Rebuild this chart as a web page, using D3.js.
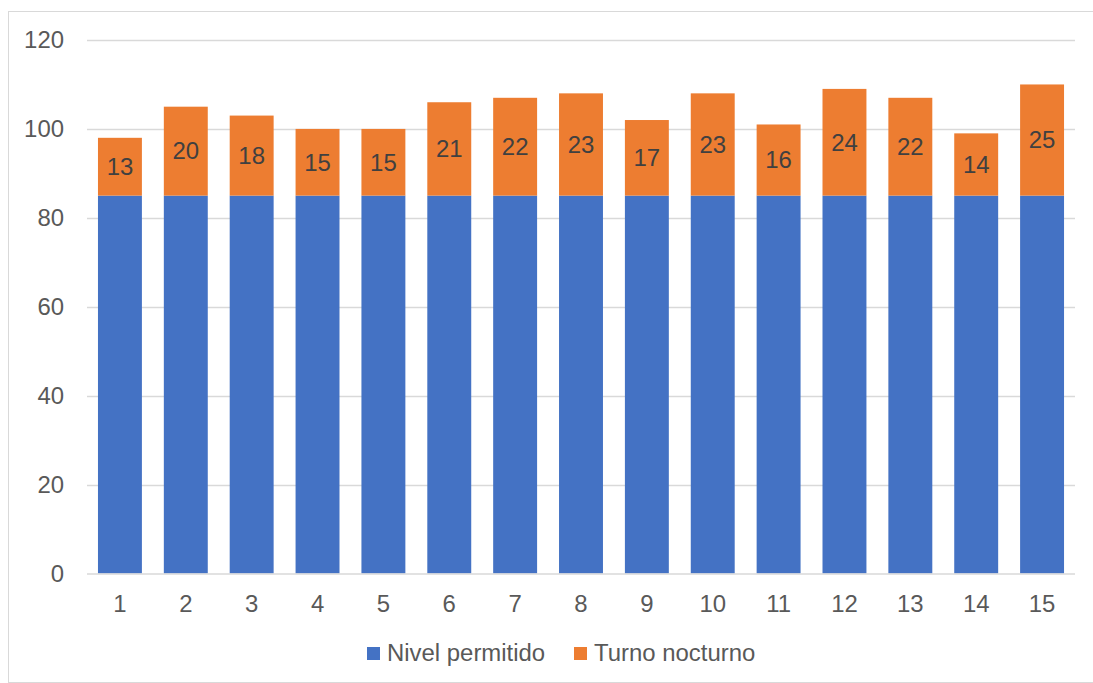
<!DOCTYPE html>
<html>
<head>
<meta charset="utf-8">
<script src="https://cdn.jsdelivr.net/npm/d3@7"></script>
<style>
  html, body { margin: 0; padding: 0; background: #fff; }
  svg { display: block; font-family: "Liberation Sans", Arial, sans-serif; }
</style>
</head>
<body>
<svg id="chart" width="1093" height="683"></svg>
<script>
// Category labels (1..15) and the two stacked series
const categories = ["1","2","3","4","5","6","7","8","9","10","11","12","13","14","15"];
const nivelPermitido = [85,85,85,85,85,85,85,85,85,85,85,85,85,85,85];
const turnoNocturno = [13,20,18,15,15,21,22,23,17,23,16,24,22,14,25];
const yTicks = [0,20,40,60,80,100,120];
const seriesNames = ["Nivel permitido", "Turno nocturno"];
const seriesColors = ["#4472C4", "#ED7D31"];

const svg = d3.select("#chart");
const W = 1093;
const plot = { left: 87, right: 1075, top: 40, bottom: 573.5 };
const fontSize = 23;
const stretch = "scale(1.04,1)";

// Outer chart frame
svg.append("rect")
  .attr("x", 8.5).attr("y", 11.5)
  .attr("width", W + 10).attr("height", 671)
  .attr("fill", "#fff").attr("stroke", "#D9D9D9").attr("stroke-width", 1);

const x = d3.scaleBand()
  .domain(categories)
  .range([plot.left, plot.right])
  .paddingInner(0.333).paddingOuter(0.1665);

const y = d3.scaleLinear().domain([0, 120]).range([plot.bottom, plot.top]);

// Horizontal gridlines
svg.append("g")
  .selectAll("line")
  .data(yTicks.filter(t => t > 0))
  .join("line")
  .attr("x1", plot.left).attr("x2", plot.right)
  .attr("y1", d => Math.round(y(d)) + 0.5).attr("y2", d => Math.round(y(d)) + 0.5)
  .attr("stroke", "#D9D9D9").attr("stroke-width", 1.3);

// Stack the data
const rows = categories.map((c, i) => ({ cat: c, a: nivelPermitido[i], b: turnoNocturno[i] }));
const layers = d3.stack().keys(["a", "b"])(rows);

svg.append("g")
  .selectAll("g")
  .data(layers)
  .join("g")
  .attr("fill", (d, i) => seriesColors[i])
  .selectAll("rect")
  .data(d => d)
  .join("rect")
  .attr("x", d => x(d.data.cat))
  .attr("width", x.bandwidth())
  .attr("y", d => y(d[1]))
  .attr("height", d => y(d[0]) - y(d[1]));

// Baseline axis
svg.append("line")
  .attr("x1", plot.left).attr("x2", plot.right)
  .attr("y1", plot.bottom + 0.5).attr("y2", plot.bottom + 0.5)
  .attr("stroke", "#D9D9D9").attr("stroke-width", 1.3);

// Helper: text placed at (px, py) with a slight horizontal widening
function label(g, px, py, str, anchor, color) {
  g.append("g")
    .attr("transform", `translate(${px},${py}) ${stretch}`)
    .append("text")
    .attr("text-anchor", anchor)
    .attr("font-size", fontSize)
    .attr("fill", color)
    .text(str);
}

// Value labels on the orange segments
const valG = svg.append("g");
layers[1].forEach(d => {
  label(valG, x(d.data.cat) + x.bandwidth() / 2, (y(d[0]) + y(d[1])) / 2 + 8.3, d.data.b, "middle", "#404040");
});

// Y axis labels
const yG = svg.append("g");
yTicks.forEach(t => label(yG, 64, y(t) + 8.3, t, "end", "#595959"));

// X axis labels
const xG = svg.append("g");
categories.forEach(c => label(xG, x(c) + x.bandwidth() / 2, 612, c, "middle", "#595959"));

// Legend
const legend = svg.append("g");
const legendX = [367, 574];
seriesNames.forEach((name, i) => {
  legend.append("rect")
    .attr("x", legendX[i]).attr("y", 647)
    .attr("width", 13).attr("height", 13)
    .attr("fill", seriesColors[i]);
  label(legend, legendX[i] + 20, 661, name, "start", "#595959");
});
</script>
</body>
</html>
